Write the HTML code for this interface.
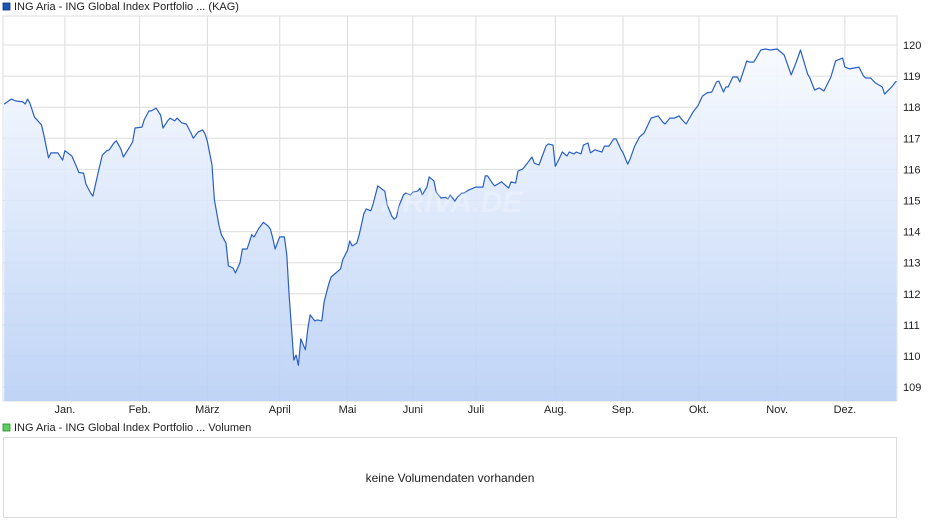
<!DOCTYPE html>
<html><head><meta charset="utf-8"><style>
body{margin:0;background:#fff;font-family:"Liberation Sans",Arial,sans-serif;}
svg{display:block}
text{font-family:"Liberation Sans",Arial,sans-serif;font-size:11px;fill:#222}
</style></head><body>
<svg id="chart" width="940" height="526">
<defs><linearGradient id="fillg" x1="0" y1="0" x2="0" y2="1">
<stop offset="0" stop-color="#f7faff"/><stop offset="1" stop-color="#b8cff5"/></linearGradient></defs>
<rect x="3" y="3" width="7" height="7" fill="#1f55b8" stroke="#0a2f7a" stroke-width="0.8"/>
<text x="14" y="10">ING Aria - ING Global Index Portfolio ... (KAG)</text>
<rect x="3" y="16" width="894" height="385" fill="#fff" stroke="#ddd"/>
<g id="grid"></g>
<g id="series"></g>
<g id="axes"></g>
<text x="522" y="212" text-anchor="end" style="font-size:30px;font-weight:bold;font-style:italic;fill:#fff;opacity:0.25">ARIVA.DE</text>
<rect x="3" y="424" width="7" height="7" fill="#5ccf5c" stroke="#2a8a2a" stroke-width="0.8"/>
<text x="14" y="431">ING Aria - ING Global Index Portfolio ... Volumen</text>
<rect x="3.5" y="437.5" width="893" height="80" fill="#fff" stroke="#ddd"/>
<text x="450" y="482" text-anchor="middle" style="font-size:12px">keine Volumendaten vorhanden</text>
</svg>
<script>
const days=[-26,-23,-21,-18,-17,-16,-15,-13,-10,-9,-7,-6,-3,-1,0,3,5,6,8,9,11,12,14,16,18,19,21,22,24,25,27,29,30,33,34,36,37,39,41,42,44,45,47,48,50,52,54,55,57,59,60,61,63,64,66,67,69,70,72,73,75,76,78,79,80,81,83,85,87,88,89,90,92,94,95,96,98,99,100,101,103,104,105,107,108,110,111,113,114,116,118,119,121,122,123,125,126,128,129,131,132,134,137,138,140,141,142,143,145,146,148,149,151,152,153,155,156,158,159,161,163,164,165,167,168,170,171,173,176,179,180,181,183,184,187,190,191,193,194,196,198,200,201,203,206,207,209,210,212,213,215,216,218,219,221,222,224,225,227,228,230,231,233,235,236,238,239,241,242,244,246,248,251,254,256,257,259,261,263,264,266,269,271,273,275,277,279,280,282,283,284,286,288,289,292,293,295,296,298,300,302,305,308,311,313,315,318,319,321,323,325,328,330,331,333,334,336,338,340,342,343,345,347,350,351,354,356];
const prices=[118.1,118.26,118.2,118.17,118.1,118.26,118.13,117.68,117.43,117.1,116.37,116.53,116.53,116.3,116.6,116.43,116.08,115.9,115.88,115.53,115.24,115.14,115.82,116.46,116.6,116.63,116.85,116.92,116.66,116.4,116.63,116.88,117.33,117.36,117.6,117.88,117.88,117.97,117.75,117.33,117.56,117.65,117.56,117.65,117.5,117.46,117.17,117.0,117.2,117.27,117.14,116.91,116.14,115.02,114.2,113.9,113.63,112.9,112.83,112.67,113.0,113.44,113.44,113.67,113.9,113.83,114.1,114.3,114.18,114.08,113.8,113.44,113.83,113.83,113.25,111.96,109.87,110.03,109.7,110.55,110.2,110.87,111.32,111.13,111.16,111.13,111.74,112.32,112.54,112.67,112.8,113.1,113.4,113.7,113.54,113.63,113.9,114.57,114.73,114.67,114.9,115.47,115.3,114.86,114.5,114.4,114.47,114.82,115.18,115.24,115.18,115.27,115.3,115.4,115.18,115.43,115.76,115.63,115.27,115.08,115.1,115.05,115.18,114.98,115.1,115.24,115.24,115.34,115.43,115.43,115.79,115.79,115.56,115.47,115.6,115.4,115.6,115.56,115.95,116.01,116.2,116.4,116.2,116.14,116.75,116.82,116.78,116.1,116.4,116.56,116.43,116.56,116.5,116.56,116.5,116.78,116.85,116.53,116.63,116.6,116.56,116.75,116.75,116.98,116.98,116.66,116.53,116.17,116.33,116.75,117.04,117.17,117.65,117.72,117.52,117.46,117.65,117.65,117.72,117.62,117.46,117.85,118.04,118.36,118.46,118.49,118.81,118.84,118.49,118.65,118.65,118.97,118.97,118.81,119.49,119.45,119.45,119.58,119.84,119.87,119.84,119.87,119.68,119.04,119.42,119.84,119.07,118.94,118.55,118.62,118.52,118.97,119.49,119.52,119.58,119.29,119.23,119.26,119.29,119.0,118.94,118.94,118.78,118.65,118.42,118.65,118.84];
const yTicks=[109,110,111,112,113,114,115,116,117,118,119,120];
const monthLabels=["Jan.","Feb.","März","April","Mai","Juni","Juli","Aug.","Sep.","Okt.","Nov.","Dez."];
const monthStarts=[0,32,61,92,121,149,176,210,239,271.5,305,334];

const X0=3,X1=897,Y0=16,Y1=401;
const dMin=-26.5,dMax=356.3;
const xs=d=>X0+(d-dMin)/(dMax-dMin)*(X1-X0);
const ys=v=>45+(120-v)*31.1;
const NS="http://www.w3.org/2000/svg";
const mk=(t,a,p)=>{const e=document.createElementNS(NS,t);for(const k in a)e.setAttribute(k,a[k]);p.appendChild(e);return e;};
const grid=document.getElementById('grid'),axes=document.getElementById('axes'),series=document.getElementById('series');
yTicks.forEach(v=>{
  const l=mk('line',{x1:X0,x2:X1,y1:ys(v),y2:ys(v),stroke:'#dcdcdc'},grid);
  
  
  const t=mk('text',{x:903,y:ys(v)+4},axes);t.textContent=v;
  
  
});
monthStarts.forEach((d,i)=>{
  const l=mk('line',{x1:xs(d),x2:xs(d),y1:Y0,y2:Y1,stroke:'#dcdcdc'},grid);
  
  
  const t=mk('text',{x:xs(d),y:413,'text-anchor':'middle'},axes);t.textContent=monthLabels[i];
  
  
});
let pts=days.map((d,i)=>xs(d).toFixed(1)+','+ys(prices[i]).toFixed(1));
const area=mk('polygon',{points:xs(days[0]).toFixed(1)+','+Y1+' '+pts.join(' ')+' '+xs(days[days.length-1]).toFixed(1)+','+Y1,fill:'url(#fillg)','fill-opacity':'0.9'},series);


const line=mk('polyline',{points:pts.join(' '),fill:'none',stroke:'#2a5fc4','stroke-width':1.2,'stroke-linejoin':'round'},series);


</script>
</body></html>
